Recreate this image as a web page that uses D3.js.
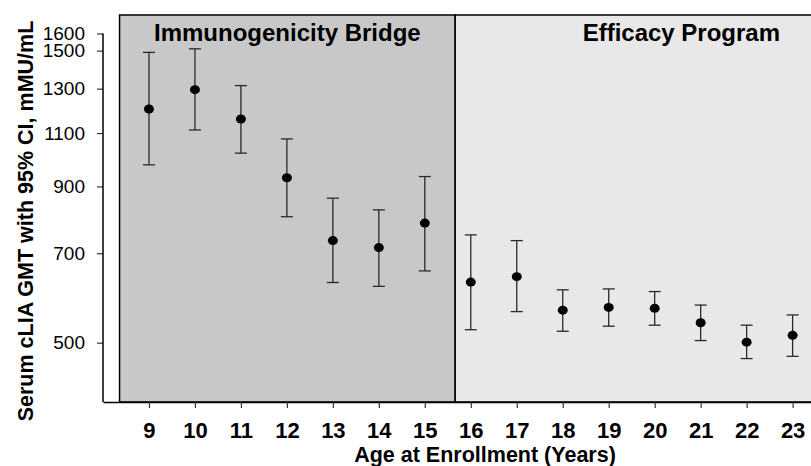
<!DOCTYPE html>
<html>
<head>
<meta charset="utf-8">
<script src="https://cdn.jsdelivr.net/npm/d3@7"></script>
<style>
    body { margin: 0; background: #ffffff; }
    svg { display: block; font-family: "Liberation Sans", Arial, Helvetica, sans-serif; }
</style>
</head>
<body>
<svg id="chart"></svg>
<script>

// Age at enrollment (years)
const ages = [9, 10, 11, 12, 13, 14, 15, 16, 17, 18, 19, 20, 21, 22, 23];

// Serum cLIA GMT (mMU/mL) with 95% CI
const gmt     = [1204, 1295, 1160, 930, 734, 715, 784, 628, 641, 565, 571, 569, 539, 501, 514];
const ciLower = [ 976, 1113, 1020, 803, 627, 618, 655, 525, 562, 522, 532, 534, 504, 471, 475];
const ciUpper = [1490, 1510, 1315, 1076, 861, 824, 934, 750, 734, 610, 612, 606, 576, 534, 555];

// y axis tick labels
const yTickValues = [500, 700, 900, 1100, 1300, 1500, 1600];

// study panels (age ranges)
const panelNames = ["Immunogenicity Bridge", "Efficacy Program"];
const panelStart = [8.36, 15.66];
const panelEnd   = [15.66, 25.5];

class GmtChart {

    constructor(parentElement) {
        this.parentElement = parentElement;
        this.initVis();
    }

    initVis() {
        let vis = this;

        vis.width = 811;
        vis.height = 466;

        vis.svg = d3.select("#" + vis.parentElement)
            .attr("width", vis.width)
            .attr("height", vis.height);

        // Scales
        vis.xScale = d3.scaleLinear()
            .domain([8, 23.4])
            .range([103, vis.width]);

        vis.yScale = d3.scaleLog()
            .domain([400, 1715])
            .range([402, 15]);

        vis.panelColor = d3.scaleOrdinal()
            .domain(panelNames)
            .range(["#c8c8c8", "#e8e8e8"]);

        vis.plotTop = vis.yScale(1715);
        vis.plotBottom = vis.yScale(400);

        // Panel data
        vis.panels = panelNames.map((name, i) => ({
            name: name,
            start: panelStart[i],
            end: panelEnd[i]
        }));

        vis.points = ages.map((age, i) => ({
            age: age,
            gmt: gmt[i],
            lo: ciLower[i],
            hi: ciUpper[i]
        }));

        vis.updateVis();
    }

    updateVis() {
        let vis = this;

        // Background panels
        vis.svg.selectAll(".panel")
            .data(vis.panels)
            .join("rect")
            .attr("class", "panel")
            .attr("x", d => vis.xScale(d.start))
            .attr("y", vis.plotTop)
            .attr("width", d => vis.xScale(d.end) - vis.xScale(d.start))
            .attr("height", vis.plotBottom - vis.plotTop)
            .attr("fill", d => vis.panelColor(d.name))
            .attr("stroke", "#000")
            .attr("stroke-width", 1.5);

        vis.svg.selectAll(".panel-title")
            .data(vis.panels)
            .join("text")
            .attr("class", "panel-title")
            .attr("x", d => vis.xScale((d.start + d.end) / 2))
            .attr("y", 41)
            .attr("text-anchor", "middle")
            .style("font-size", "24px")
            .style("font-weight", "bold")
            .style("fill", "#000")
            .text(d => d.name);

        // Axes
        vis.xAxis = d3.axisBottom(vis.xScale)
            .tickValues(ages)
            .tickFormat(d3.format("d"))
            .tickSize(6)
            .tickSizeOuter(0)
            .tickPadding(14);

        vis.yAxis = d3.axisLeft(vis.yScale)
            .tickValues(yTickValues)
            .tickFormat(d3.format("d"))
            .tickSize(6)
            .tickSizeOuter(0)
            .tickPadding(12);

        let xg = vis.svg.append("g")
            .attr("class", "axis x-axis")
            .attr("transform", `translate(0, ${vis.plotBottom})`)
            .call(vis.xAxis);

        xg.select(".domain").attr("stroke", "#000").attr("stroke-width", 1.5);
        xg.selectAll(".tick line").attr("stroke", "#333").attr("stroke-width", 1.2);
        xg.selectAll(".tick text")
            .attr("fill", "#000")
            .style("font-size", "22px")
            .style("font-weight", "bold")
            .style("font-family", "inherit");

        let yg = vis.svg.append("g")
            .attr("class", "axis y-axis")
            .attr("transform", `translate(103, 0)`)
            .call(vis.yAxis);

        // axis line only runs from the top tick down to the x axis
        yg.select(".domain").remove();
        yg.append("line")
            .attr("y1", vis.yScale(1600))
            .attr("y2", vis.plotBottom)
            .attr("stroke", "#000")
            .attr("stroke-width", 1.5);
        yg.selectAll(".tick line").attr("stroke", "#333").attr("stroke-width", 1.2);
        yg.selectAll(".tick text")
            .attr("fill", "#000")
            .style("font-size", "19px")
            .style("font-family", "inherit");

        // Axis labels
        vis.svg.append("text")
            .attr("class", "axis-label")
            .attr("x", 485)
            .attr("y", 462)
            .attr("text-anchor", "middle")
            .style("font-size", "21.5px")
            .style("font-weight", "bold")
            .text("Age at Enrollment (Years)");

        vis.svg.append("text")
            .attr("class", "axis-label")
            .attr("transform", "translate(33, 221) rotate(-90)")
            .attr("text-anchor", "middle")
            .style("font-size", "21.5px")
            .style("font-weight", "bold")
            .text("Serum cLIA GMT with 95% CI, mMU/mL");

        // Error bars
        let bars = vis.svg.selectAll(".err")
            .data(vis.points)
            .join("g")
            .attr("class", "err")
            .attr("transform", d => `translate(${vis.xScale(d.age)}, 0)`);

        bars.append("line")
            .attr("y1", d => vis.yScale(d.lo))
            .attr("y2", d => vis.yScale(d.hi))
            .attr("stroke", "#2a2a2a")
            .attr("stroke-width", 1.3);

        bars.selectAll(".cap")
            .data(d => [d.lo, d.hi])
            .join("line")
            .attr("class", "cap")
            .attr("x1", -6)
            .attr("x2", 6)
            .attr("y1", d => vis.yScale(d))
            .attr("y2", d => vis.yScale(d))
            .attr("stroke", "#2a2a2a")
            .attr("stroke-width", 1.3);

        bars.append("ellipse")
            .attr("cy", d => vis.yScale(d.gmt))
            .attr("rx", 5)
            .attr("ry", 4.5)
            .attr("fill", "#000");
    }
}

new GmtChart("chart");

</script>
</body>
</html>
